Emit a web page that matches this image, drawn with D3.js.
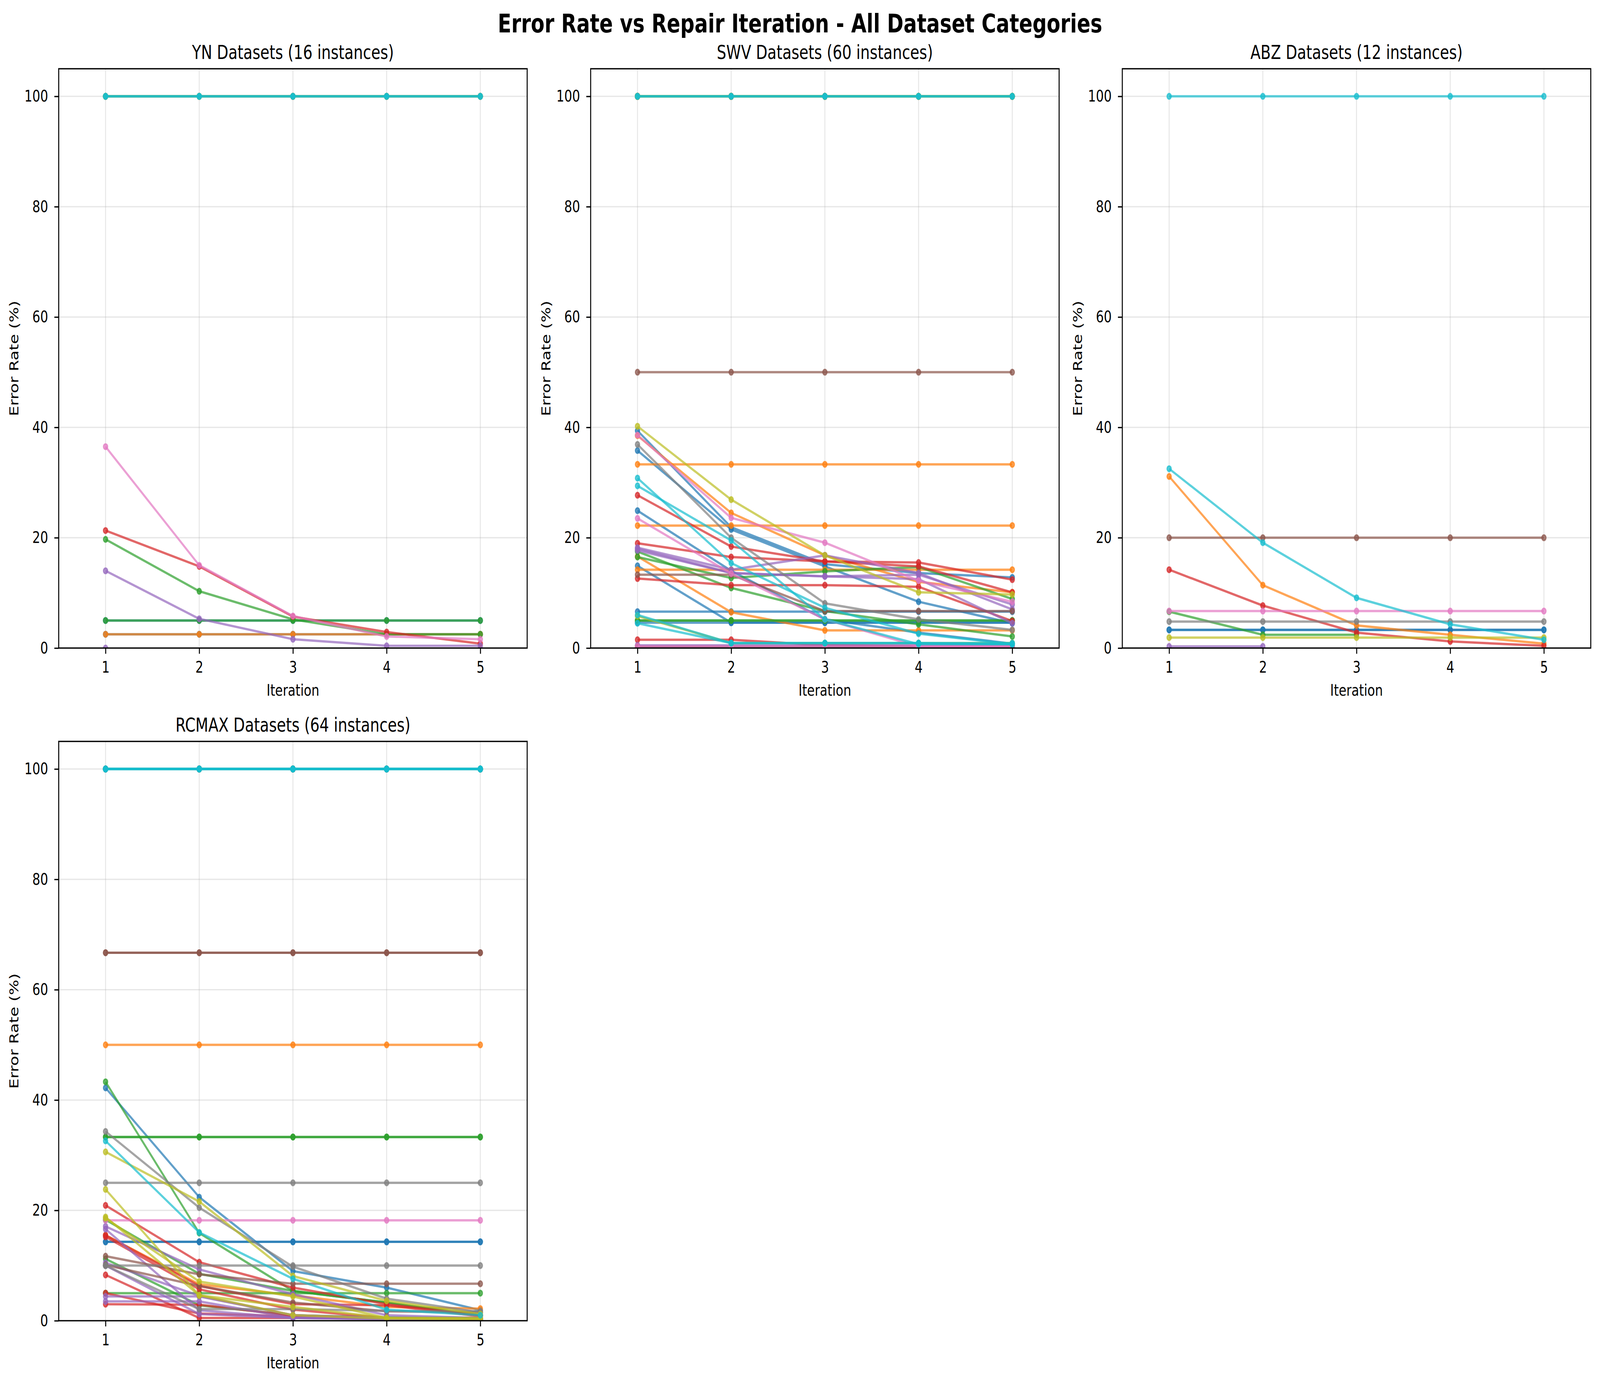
<!DOCTYPE html>
<html>
<head>
<meta charset="utf-8">
<script src="https://cdn.jsdelivr.net/npm/d3@7"></script>
<style>
  html, body { margin: 0; padding: 0; background: #fff; overflow: hidden; }
  svg { display: block; width: 100vw; height: 100vh; font-family: 'DejaVu Sans', sans-serif; }
</style>
</head>
<body>
<div id="chart"></div>
<script>
// values, one row per dataset instance
const iterations = [1, 2, 3, 4, 5];
const yTickValues = [0, 20, 40, 60, 80, 100];
const mainTitle = 'Error Rate vs Repair Iteration - All Dataset Categories';
const panelTitles = [
  'YN Datasets (16 instances)',
  'SWV Datasets (60 instances)',
  'ABZ Datasets (12 instances)',
  'RCMAX Datasets (64 instances)'
];

const ynRates = [
  [5, 5, 5, 5, 5],
  [2.5, 2.5, 2.5, 2.5, 2.5],
  [2.5, 2.5, 2.5, 2.5, 2.5],
  [19.7, 10.3, 5.2, 2.5, 2.5],
  [5, 5, 5, 5, 5],
  [21.3, 14.8, 5.7, 2.9, 0.8],
  [14.0, 5.3, 1.6, 0.4, 0.4],
  [0, null, null, null, null],
  [100, 100, 100, 100, 100],
  [36.5, 15.0, 5.8, 2.1, 1.6],
  [100, 100, 100, 100, 100],
  [100, 100, 100, 100, 100],
  [100, 100, 100, 100, 100],
  [100, 100, 100, 100, 100],
  [100, 100, 100, 100, 100],
  [100, 100, 100, 100, 100]
];

const swvRates = [
  [39.4, 21.9, 15.2, 13.6, 12.8],
  [35.8, 21.5, 14.8, 8.4, 4.5],
  [24.9, 14.0, 5.2, 2.8, 0.8],
  [14.9, 4.6, 4.6, 4.6, 4.6],
  [6.6, 6.6, 6.6, 6.6, 6.6],
  [4.6, 4.6, 4.6, 4.6, 4.6],
  [38.5, 24.5, 16.8, 12.0, 10.1],
  [33.3, 33.3, 33.3, 33.3, 33.3],
  [22.2, 22.2, 22.2, 22.2, 22.2],
  [16.6, 6.5, 3.2, 3.2, 3.2],
  [14.2, 14.2, 14.2, 14.2, 14.2],
  [100, 100, 100, 100, 100],
  [17.5, 10.9, 6.7, 4.3, 2.1],
  [16.5, 12.7, 13.9, 14.7, 8.9],
  [5, 5, 5, 5, 5],
  [5, 5, 5, 5, 5],
  [100, 100, 100, 100, 100],
  [100, 100, 100, 100, 100],
  [27.7, 18.4, 15.7, 15.5, 12.4],
  [19.0, 16.5, 15.7, 14.8, 10.1],
  [12.6, 11.4, 11.4, 11.1, 4.9],
  [1.5, 1.5, 0.5, 0.3, 0.3],
  [100, 100, 100, 100, 100],
  [100, 100, 100, 100, 100],
  [18.2, 14.2, 16.8, 13.6, 7.0],
  [18.0, 13.6, 13.0, 13.3, 7.9],
  [17.7, 13.6, 13.0, 12.5, 4.5],
  [0.5, 0.5, 0.5, 0.5, 0.5],
  [0.3, 0.3, 0.3, 0.3, 0.3],
  [100, 100, 100, 100, 100],
  [50, 50, 50, 50, 50],
  [13.3, 13.3, 6.7, 6.7, 6.7],
  [0.2, 0.2, 0.2, 0.2, 0.2],
  [100, 100, 100, 100, 100],
  [100, 100, 100, 100, 100],
  [100, 100, 100, 100, 100],
  [38.6, 23.6, 19.1, 12.2, 8.4],
  [23.5, 13.5, 5.2, 0.3, 0.3],
  [0.3, 0.3, 0.3, 0.3, 0.3],
  [100, 100, 100, 100, 100],
  [100, 100, 100, 100, 100],
  [100, 100, 100, 100, 100],
  [36.9, 20.0, 8.1, 5.2, 3.3],
  [100, 100, 100, 100, 100],
  [100, 100, 100, 100, 100],
  [100, 100, 100, 100, 100],
  [100, 100, 100, 100, 100],
  [100, 100, 100, 100, 100],
  [40.2, 26.9, 16.8, 10.1, 9.7],
  [5.8, 0.9, 0.9, 0.9, 0.9],
  [100, 100, 100, 100, 100],
  [100, 100, 100, 100, 100],
  [100, 100, 100, 100, 100],
  [100, 100, 100, 100, 100],
  [30.8, 15.4, 7.3, 2.6, 0.7],
  [29.4, 19.5, 5.2, 0.7, 0.7],
  [6.0, 0.9, 0.9, 0.9, 0.9],
  [4.5, 0.9, 0.9, 0.9, 0.7],
  [100, 100, 100, 100, 100],
  [100, 100, 100, 100, 100]
];

const abzRates = [
  [3.3, 3.3, 3.3, 3.3, 3.3],
  [3.3, 3.3, 3.3, 3.3, 3.3],
  [31.1, 11.4, 4.1, 2.4, 0.8],
  [6.6, 2.4, 2.4, null, null],
  [14.2, 7.7, 2.8, 1.2, 0.4],
  [0.3, 0.3, null, null, null],
  [20, 20, 20, 20, 20],
  [6.7, 6.7, 6.7, 6.7, 6.7],
  [4.8, 4.8, 4.8, 4.8, 4.8],
  [1.9, 1.9, 1.9, 1.9, 1.9],
  [32.5, 19.1, 9.1, 4.3, 1.5],
  [100, 100, 100, 100, 100]
];

const rcmaxRates = [
  [42.2, 22.4, 9.0, 6.0, 1.9],
  [14.3, 14.3, 14.3, 14.3, 14.3],
  [14.3, 14.3, 14.3, 14.3, 14.3],
  [100, 100, 100, 100, 100],
  [100, 100, 100, 100, 100],
  [100, 100, 100, 100, 100],
  [100, 100, 100, 100, 100],
  [50, 50, 50, 50, 50],
  [15.5, 6.6, 4.6, 2.5, 2.2],
  [100, 100, 100, 100, 100],
  [100, 100, 100, 100, 100],
  [100, 100, 100, 100, 100],
  [100, 100, 100, 100, 100],
  [43.3, 15.9, 5.4, 3.3, 1.0],
  [33.3, 33.3, 33.3, 33.3, 33.3],
  [33.3, 33.3, 33.3, 33.3, 33.3],
  [18.3, 8.5, 5.4, 3.3, 1.0],
  [11.2, 2.8, 1.0, 0.6, 0.5],
  [5, 5, 5, 5, 5],
  [20.9, 10.6, 6.0, 3.0, 1.0],
  [15.5, 6.3, 3.0, 2.8, 0.8],
  [15.2, 5.7, 2.0, 0.5, 0.3],
  [8.3, 0.5, 0.5, 0.5, 0.3],
  [5.0, 1.3, 0.8, 0.5, 0.3],
  [3.0, 2.9, 0.9, 0.5, 0.3],
  [100, 100, 100, 100, 100],
  [17.1, 9.3, 4.8, 1.0, 0.5],
  [16.6, 1.9, 0.5, 0.4, 0.3],
  [10.5, 4.5, 1.0, 0.5, 0.3],
  [4.4, 4.4, 1.0, 0.5, 0.3],
  [3.5, 3.5, 0.5, 0.3, 0.3],
  [10.0, 1.2, 0.5, 0.3, 0.2],
  [66.7, 66.7, 66.7, 66.7, 66.7],
  [66.7, 66.7, 66.7, 66.7, 66.7],
  [11.7, 8.4, 6.7, 6.7, 6.7],
  [10.1, 6.3, 3.3, 1.7, 1.5],
  [100, 100, 100, 100, 100],
  [100, 100, 100, 100, 100],
  [18.2, 18.2, 18.2, 18.2, 18.2],
  [100, 100, 100, 100, 100],
  [100, 100, 100, 100, 100],
  [100, 100, 100, 100, 100],
  [100, 100, 100, 100, 100],
  [100, 100, 100, 100, 100],
  [100, 100, 100, 100, 100],
  [25, 25, 25, 25, 25],
  [10, 10, 10, 10, 10],
  [34.3, 20.5, 9.8, 4.0, 1.5],
  [10.0, 2.1, 2.1, 1.8, 1.7],
  [100, 100, 100, 100, 100],
  [100, 100, 100, 100, 100],
  [30.6, 21.6, 8.1, 3.6, 1.2],
  [23.8, 4.6, 2.5, 0.5, 0.5],
  [18.6, 7.1, 4.4, 0.5, 0.3],
  [18.8, 4.6, 1.0, 0.4, 0.3],
  [100, 100, 100, 100, 100],
  [100, 100, 100, 100, 100],
  [32.6, 16.0, 7.6, 2.0, 1.0],
  [100, 100, 100, 100, 100],
  [100, 100, 100, 100, 100],
  [100, 100, 100, 100, 100],
  [100, 100, 100, 100, 100],
  [100, 100, 100, 100, 100],
  [100, 100, 100, 100, 100]
];

const w = 5369;
const h = 3543;
const pt = 300 / 72;
const pw = 1572;
const ph = 1483;

const panels = [
  { title: panelTitles[0], rates: ynRates, x: 197, y: 176 },
  { title: panelTitles[1], rates: swvRates, x: 1982, y: 176 },
  { title: panelTitles[2], rates: abzRates, x: 3766, y: 176 },
  { title: panelTitles[3], rates: rcmaxRates, x: 197, y: 1898 }
];

// matplotlib-style tab10 sampled evenly over the instances
const colorFor = (i, n) => d3.schemeCategory10[Math.min(9, Math.floor(i / (n - 1) * 10))];

// viewBox stretched onto the window so the figure always fills the frame
const svg = d3.select('#chart')
              .append('svg')
              .attr('viewBox', `0 0 ${w} ${h}`)
              .attr('preserveAspectRatio', 'none');

svg.append('rect')
   .attr('width', w)
   .attr('height', h)
   .attr('fill', '#fff');

svg.append('text')
   .attr('x', w / 2)
   .attr('y', 83)
   .attr('text-anchor', 'middle')
   .attr('font-size', 16 * pt)
   .attr('font-weight', 'bold')
   .text(mainTitle);

panels.forEach((p, k) => {
  const g = svg.append('g')
               .attr('transform', `translate(${p.x}, ${p.y})`);

  const xScale = d3.scaleLinear()
                   .domain([0.5, 5.5])
                   .range([0, pw]);

  const yScale = d3.scaleLinear()
                   .domain([0, 105])
                   .range([ph, 0]);

  // grid
  const grid = g.append('g')
                .attr('stroke', '#b0b0b0')
                .attr('stroke-opacity', 0.3)
                .attr('stroke-width', 0.8 * pt);
  grid.selectAll('.gx')
      .data(iterations)
      .join('line')
      .attr('x1', d => xScale(d))
      .attr('x2', d => xScale(d))
      .attr('y1', 0)
      .attr('y2', ph);
  grid.selectAll('.gy')
      .data(yTickValues)
      .join('line')
      .attr('x1', 0)
      .attr('x2', pw)
      .attr('y1', d => yScale(d))
      .attr('y2', d => yScale(d));

  g.append('clipPath')
   .attr('id', 'clip' + k)
   .append('rect')
   .attr('width', pw)
   .attr('height', ph);

  const line = d3.line()
                 .defined(d => d != null)
                 .x((d, j) => xScale(iterations[j]))
                 .y(d => yScale(d));

  const n = p.rates.length;
  const series = g.append('g')
                  .attr('clip-path', `url(#clip${k})`)
                  .selectAll('g')
                  .data(p.rates)
                  .join('g');

  series.append('path')
        .attr('d', d => line(d))
        .attr('fill', 'none')
        .attr('stroke', (d, i) => colorFor(i, n))
        .attr('stroke-opacity', 0.7)
        .attr('stroke-width', 6)
        .attr('stroke-linejoin', 'round');

  series.each(function(d, i) {
    const c = colorFor(i, n);
    d3.select(this)
      .selectAll('circle')
      .data(d.map((v, j) => [iterations[j], v]).filter(q => q[1] != null))
      .join('circle')
      .attr('cx', q => xScale(q[0]))
      .attr('cy', q => yScale(q[1]))
      .attr('r', 7)
      .attr('fill', c)
      .attr('fill-opacity', 0.7)
      .attr('stroke', c)
      .attr('stroke-opacity', 0.7)
      .attr('stroke-width', 4);
  });

  // axes
  const xAxis = d3.axisBottom(xScale)
                  .tickValues(iterations)
                  .tickFormat(d3.format('d'))
                  .tickSize(14.6)
                  .tickPadding(19);

  const yAxis = d3.axisLeft(yScale)
                  .tickValues(yTickValues)
                  .tickSize(14.6)
                  .tickPadding(21);

  const gx = g.append('g')
              .attr('transform', `translate(0, ${ph})`)
              .call(xAxis);
  const gy = g.append('g')
              .call(yAxis);

  [gx, gy].forEach(a => {
    a.select('.domain').remove();
    a.attr('font-size', 10 * pt)
     .attr('font-family', "'DejaVu Sans', sans-serif");
    a.selectAll('.tick line')
     .attr('stroke', '#000')
     .attr('stroke-width', 0.8 * pt);
    a.selectAll('.tick text')
     .attr('fill', '#000');
  });

  g.append('rect')
   .attr('width', pw)
   .attr('height', ph)
   .attr('fill', 'none')
   .attr('stroke', '#000')
   .attr('stroke-width', 0.8 * pt);

  g.append('text')
   .attr('x', pw / 2)
   .attr('y', -25)
   .attr('text-anchor', 'middle')
   .attr('font-size', 12 * pt)
   .text(p.title);

  g.append('text')
   .attr('x', pw / 2)
   .attr('y', ph + 122)
   .attr('text-anchor', 'middle')
   .attr('font-size', 10 * pt)
   .text('Iteration');

  g.append('text')
   .attr('transform', `translate(-135, ${ph / 2}) rotate(-90)`)
   .attr('text-anchor', 'middle')
   .attr('font-size', 10 * pt)
   .text('Error Rate (%)');
});
</script>
</body>
</html>
